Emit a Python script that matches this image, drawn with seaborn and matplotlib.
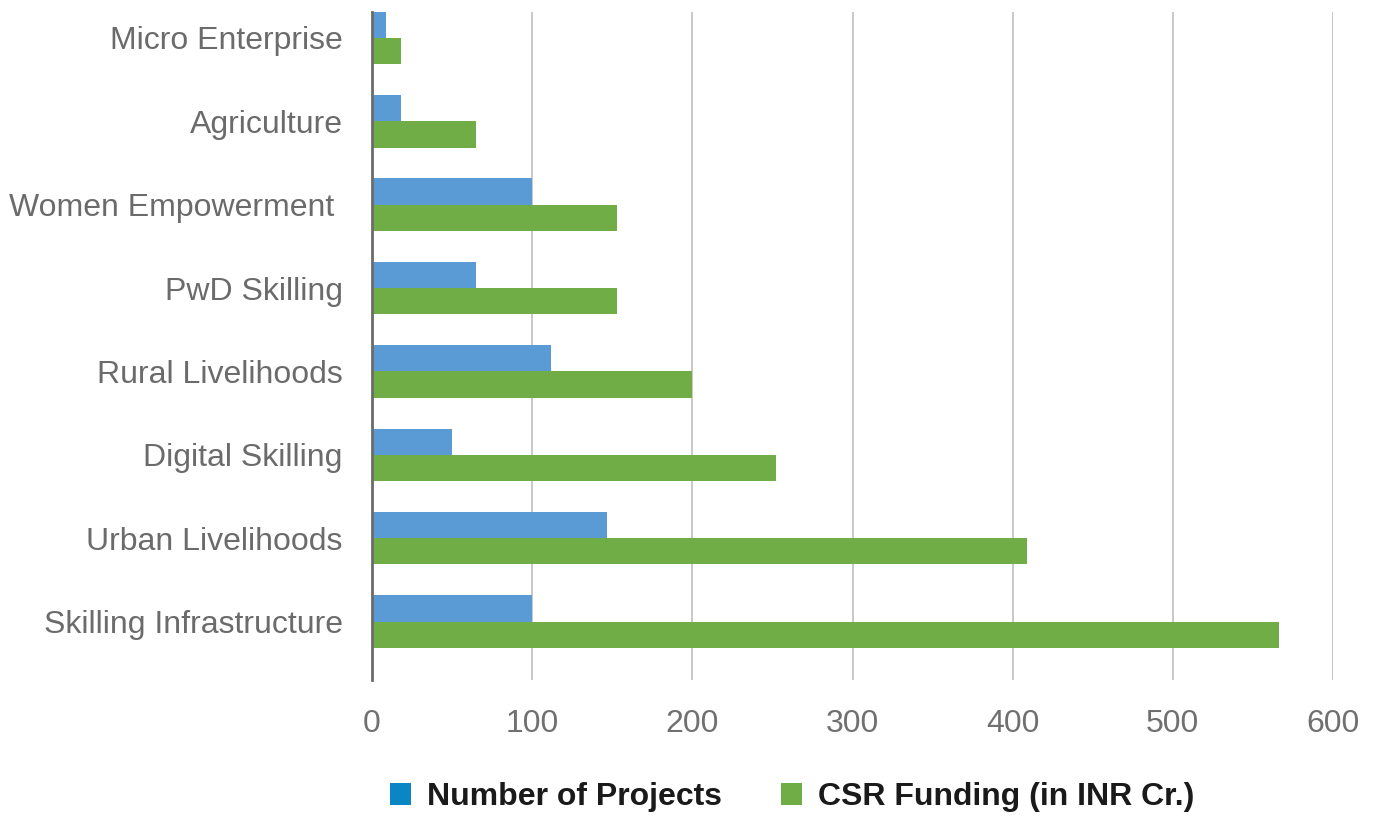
import numpy as np
import pandas as pd
import seaborn as sns
import matplotlib.pyplot as plt
from matplotlib.patches import Patch

categories = ["Micro Enterprise", "Agriculture", "Women Empowerment ", "PwD Skilling",
              "Rural Livelihoods", "Digital Skilling", "Urban Livelihoods",
              "Skilling Infrastructure"]
projects = [9, 18, 100, 65, 112, 50, 147, 100]
funding = [18, 65, 153, 153, 200, 252, 409, 566]
series_names = ["Number of Projects", "CSR Funding (in INR Cr.)"]
x_ticks = [0, 100, 200, 300, 400, 500, 600]

df = pd.DataFrame({
    "Category": categories * 2,
    "Value": projects + funding,
    "Series": [series_names[0]] * len(categories) + [series_names[1]] * len(categories),
})

sns.set_theme(style="white")
plt.rcParams['font.family'] = ['Liberation Sans', 'DejaVu Sans']

W, H = 1374, 816
fig = plt.figure(figsize=(W / 100, H / 100), dpi=100)
ax = fig.add_axes([372 / W, 1 - 680 / H, (1333 - 372) / W, 668 / H])

sns.barplot(data=df, y="Category", x="Value", hue="Series", order=categories,
            hue_order=series_names, palette=["#5B9BD5", "#70AD47"], width=0.63,
            saturation=1, errorbar=None, legend=False, linewidth=0, ax=ax)

ax.set_xlim(0, 600)
ax.set_ylim(7.7, -0.31)
ax.set_xticks(x_ticks)
ax.set_xticklabels([str(t) for t in x_ticks])
ax.set_xlabel("")
ax.set_ylabel("")
ax.tick_params(axis="x", length=0, pad=21, labelsize=23, labelcolor="#707070")
ax.tick_params(axis="y", length=0, pad=21, labelsize=23, labelcolor="#6b6b6b")
ax.set_axisbelow(True)
ax.xaxis.grid(True, color="#c4c4c4", linewidth=1.3)
ax.yaxis.grid(False)
for s in ["top", "right", "bottom"]:
    ax.spines[s].set_visible(False)
ax.spines["left"].set_color("#6b6b6b")
ax.spines["left"].set_linewidth(2)

handles = [Patch(facecolor="#0A86C4", edgecolor="none"),
           Patch(facecolor="#70AD47", edgecolor="none")]
fig.legend(handles, series_names, loc="center left",
           bbox_to_anchor=(390 / W, 1 - 797 / H), frameon=False, ncol=2,
           borderpad=0, borderaxespad=0, handlelength=0.66, handleheight=0.66,
           handletextpad=0.5, columnspacing=1.85,
           prop={"weight": "bold", "size": 23})
for t in fig.legends[0].get_texts():
    t.set_color("#1a1a1a")

fig.savefig("out.png", dpi=100)
